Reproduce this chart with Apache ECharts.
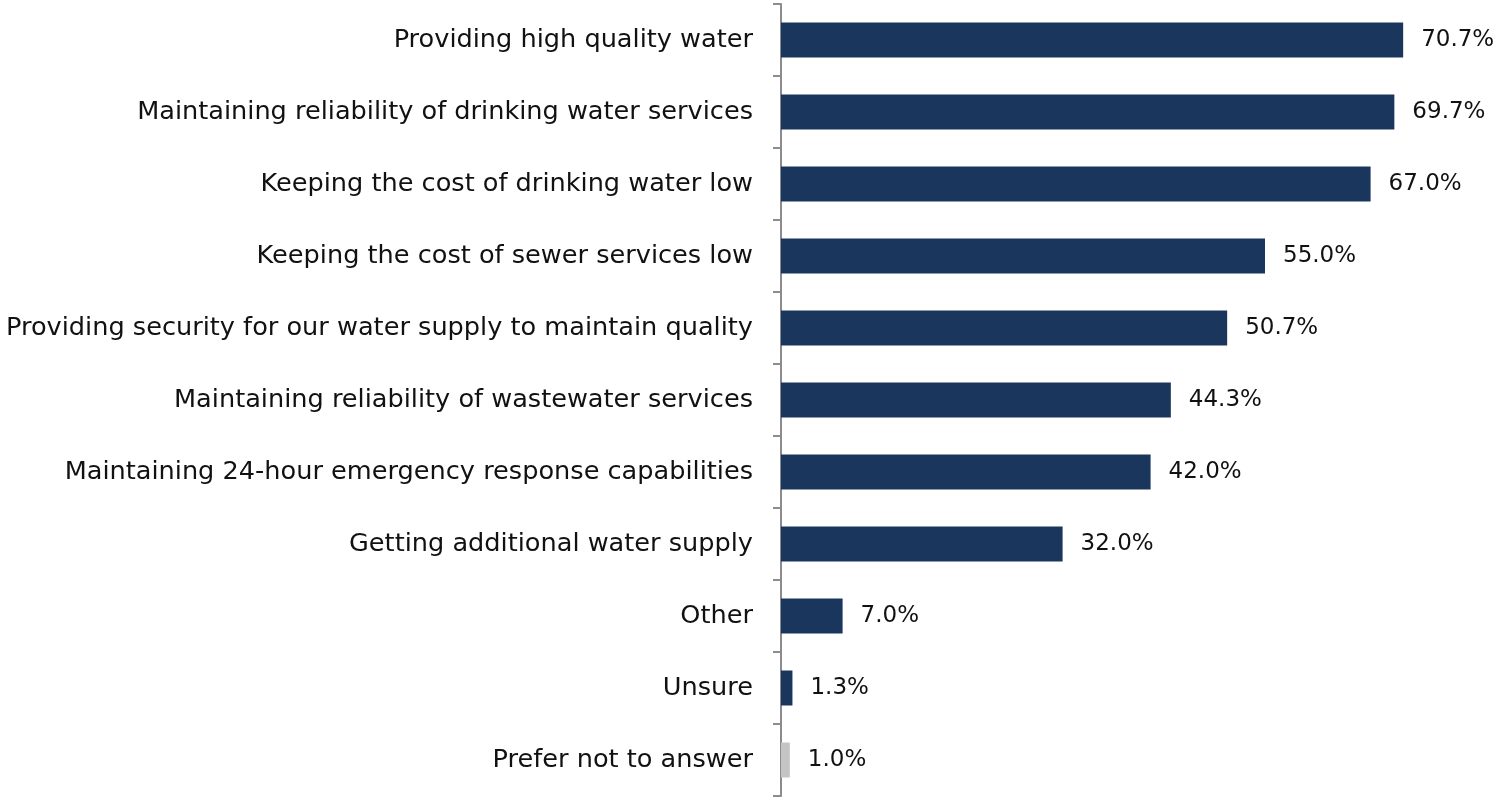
<!DOCTYPE html>
<html>
<head>
<meta charset="utf-8">
<script src="https://cdn.jsdelivr.net/npm/echarts@6/dist/echarts.min.js"></script>
<style>
  html, body { margin: 0; padding: 0; background: #fff; }
  #main { width: 1496px; height: 799px; }
</style>
</head>
<body>
<div id="main"></div>
<script>
var categories = [
    'Providing high quality water',
    'Maintaining reliability of drinking water services',
    'Keeping the cost of drinking water low',
    'Keeping the cost of sewer services low',
    'Providing security for our water supply to maintain quality',
    'Maintaining reliability of wastewater services',
    'Maintaining 24-hour emergency response capabilities',
    'Getting additional water supply',
    'Other',
    'Unsure',
    'Prefer not to answer'
];
var values = [70.7, 69.7, 67.0, 55.0, 50.7, 44.3, 42.0, 32.0, 7.0, 1.3, 1.0];
var barColors = ['#1b365d', '#1b365d', '#1b365d', '#1b365d', '#1b365d', '#1b365d',
    '#1b365d', '#1b365d', '#1b365d', '#1b365d', '#c4c4c4'];

var myChart = echarts.init(document.getElementById('main'));

var option = {
    animation: false,
    grid: {
        left: 781,
        right: 11,
        top: 4,
        bottom: 3,
        containLabel: false
    },
    xAxis: {
        type: 'value',
        min: 0,
        max: 80,
        show: false
    },
    yAxis: {
        type: 'category',
        inverse: true,
        data: categories,
        axisLine: { show: true, lineStyle: { color: '#8c8c8c', width: 2 } },
        axisTick: { show: true, length: 8, lineStyle: { color: '#8c8c8c', width: 2 } },
        axisLabel: {
            margin: 28,
            color: '#111',
            fontSize: 25.6,
            fontFamily: 'DejaVu Sans, sans-serif'
        }
    },
    series: [
        {
            type: 'bar',
            barWidth: 35,
            data: values.map(function (v, i) {
                return { value: v, itemStyle: { color: barColors[i] } };
            }),
            label: {
                show: true,
                position: 'right',
                distance: 18,
                color: '#111',
                fontSize: 23,
                fontFamily: 'DejaVu Sans, sans-serif',
                formatter: function (p) { return p.value.toFixed(1) + '%'; }
            }
        }
    ]
};

myChart.setOption(option);

window.onresize = function () {
    myChart.resize();
};
</script>
</body>
</html>
